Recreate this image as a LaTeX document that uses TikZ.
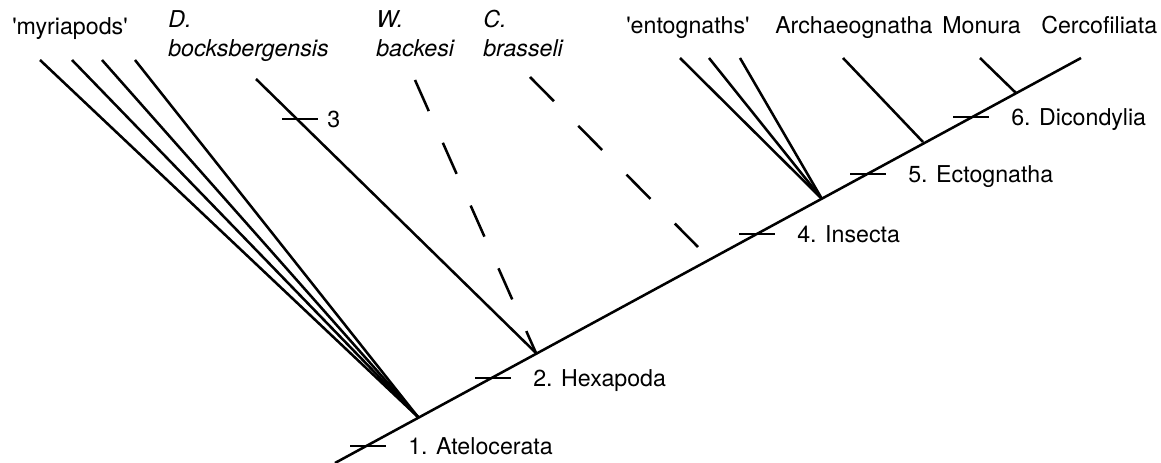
\documentclass[tikz,border=0pt]{standalone}
\usepackage{fontspec}
\setmainfont{TeX Gyre Heros}
\begin{document}
\begin{tikzpicture}[x=0.75pt,y=-0.75pt,
		branch/.style={line width=1.9pt},
		gapline/.style={line width=1.9pt, dash pattern=on 25.5pt off 26pt},
		taxon/.style={anchor=base west, inner sep=0pt, font=\fontsize{17.4}{20}\selectfont},
		stem/.style={anchor=base west, inner sep=0pt, font=\fontsize{17.4}{20}\selectfont}]
		\useasboundingbox (0,0) rectangle (1161,463);
		% main stem
		\coordinate (root) at (335,463);
		\coordinate (tip) at (1081,58);
		\draw[branch] (root) -- (tip);
		% branching points
		\coordinate (atelo) at (418,417);
		\coordinate (hexa) at (536,353);
		\coordinate (insect) at (822,199);
		\coordinate (ecto) at (923,142);
		\coordinate (dicon) at (1016,93);
		% side branches
		\foreach \x [count=\i] in {40,72,102,135} {
			\coordinate (myr\i) at (\x,60);
			\draw[branch] (myr\i) -- (atelo);
		}
		\coordinate (dbock) at (256,79);
		\draw[branch] (dbock) -- (hexa);
		\coordinate (wback) at (415,80);
		\draw[gapline] (wback) -- (hexa);
		\coordinate (cbras) at (530,77);
		\coordinate (cbrasend) at (698,247);
		\draw[gapline] (cbras) -- (cbrasend);
		\foreach \x [count=\i] in {680,709,740} {
			\coordinate (ent\i) at (\x,58);
			\draw[branch] (ent\i) -- (insect);
		}
		\coordinate (archa) at (843,58);
		\draw[branch] (archa) -- (ecto);
		\coordinate (monu) at (980,58);
		\draw[branch] (monu) -- (dicon);
		% apomorphy ticks
		\foreach \x/\y/\n/\t in {368/446/1/1. Atelocerata, 493/378/2/2. Hexapoda, 757/234/4/4. Insecta,
			868/174/5/5. Ectognatha, 971/117/6/6. Dicondylia} {
			\draw[branch] (\x-18,\y) -- (\x+18,\y);
			\node[stem] (lab\n) at (\x+40,\y+8.5) {\t};
		}
		\draw[branch] (282,119) -- (318,119);
		\node[stem] (lab3) at (327,127.5) {3};
		% taxa
		\node[taxon] (myria) at (12,35) {\textquotesingle myriapods\textquotesingle};
		\node[taxon] (dname) at (168,28) {\itshape D.};
		\node[taxon] (dspec) at (168,57) {\itshape bocksbergensis};
		\node[taxon] (wname) at (376,28) {\itshape W.};
		\node[taxon] (wspec) at (376,57) {\itshape backesi};
		\node[taxon] (cname) at (483,28) {\itshape C.};
		\node[taxon] (cspec) at (483,57) {\itshape brasseli};
		\node[taxon] (ento) at (626,34) {\textquotesingle entognaths\textquotesingle};
		\node[taxon] (arch) at (775,34) {Archaeognatha};
		\node[taxon] (monura) at (942,34) {Monura};
		\node[taxon] (cerco) at (1041,34) {Cercofiliata};
	\end{tikzpicture}
\end{document}
